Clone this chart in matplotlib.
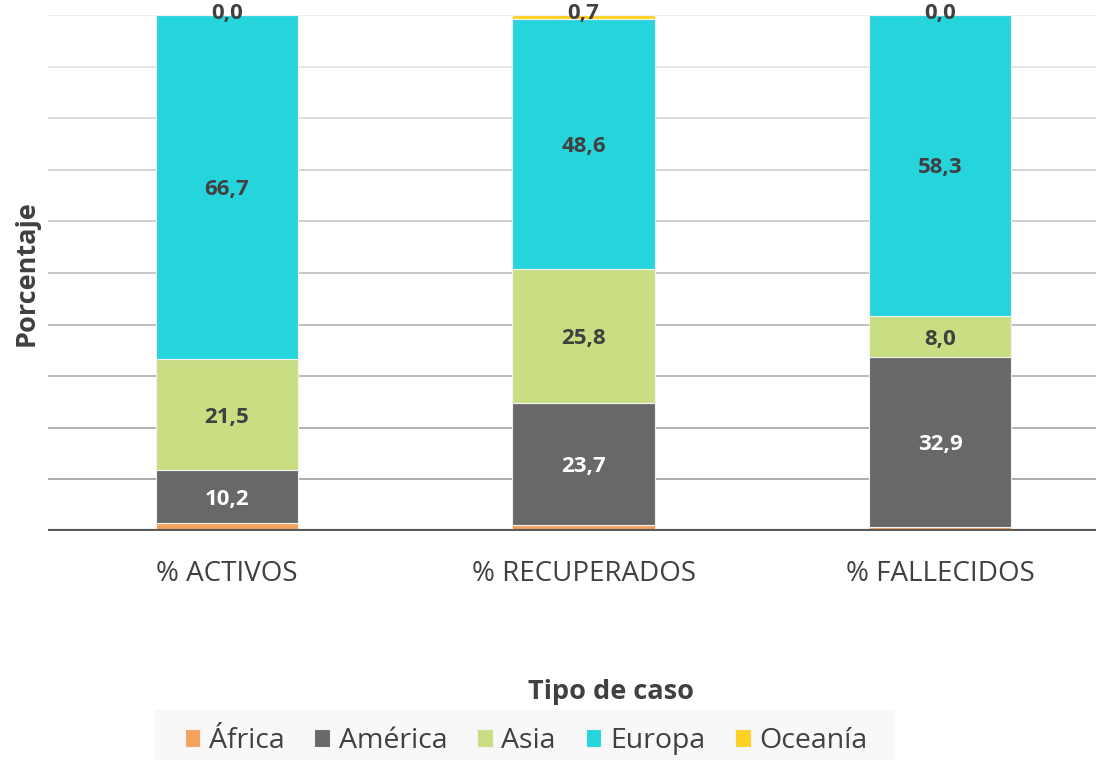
import numpy as np
import matplotlib.pyplot as plt
import pandas as pd
plt.rcParams['font.family'] = ['Open Sans', 'DejaVu Sans']
data = pd.DataFrame({
    'África':   [1.6, 1.2, 0.8],
    'América':  [10.2, 23.7, 32.9],
    'Asia':     [21.5, 25.8, 8.0],
    'Europa':   [66.7, 48.6, 58.3],
    'Oceanía':  [0.0, 0.7, 0.0],
}, index=['% ACTIVOS', '% RECUPERADOS', '% FALLECIDOS'])
colors = {'África': '#f4a15c', 'América': '#686868', 'Asia': '#c9dd82',
          'Europa': '#26d4dc', 'Oceanía': '#fdd225'}
x = np.arange(len(data))
fig = plt.figure(figsize=(10.96, 7.6), dpi=100)
ax = fig.add_axes([48 / 1096, 229 / 760, 1 - 48 / 1096, 516 / 760])
greys = ['#a6a6a6', '#acacac', '#b3b3b3', '#bababa', '#c2c2c2',
         '#cacaca', '#d2d2d2', '#dadada', '#e3e3e3', '#ebebeb']
for level, g in zip(range(10, 101, 10), greys):  # gridlines fade towards the top
    plt.axhline(level, color=g, lw=1.3, zorder=0)
bottom = np.zeros(len(data))
for region in data.columns:
    vals = data[region].values
    plt.bar(x, vals, width=0.4, bottom=bottom, color=colors[region],
            edgecolor='#f2f2f2', linewidth=0.8, label=region, zorder=2)
    for xi, v, b in zip(x, vals, bottom):
        if region == 'África':
            continue
        if region == 'Oceanía':
            y = b + v + 0.2
        else:
            y = b + v / 2 - 0.5
        tc = 'white' if region == 'América' else '#404040'
        plt.text(xi, y, f'{v:.1f}'.replace('.', ','), ha='center', va='center',
                 fontsize=16, fontweight='bold', color=tc, zorder=4, clip_on=False)
    bottom += vals
plt.axhline(0, color='#595959', lw=3, zorder=3)  # baseline
plt.xlim(-0.502, 2.437)
plt.ylim(0, 100)
plt.xticks(x, data.index, fontsize=20, color='#404040')
plt.yticks([])
plt.tick_params(axis='x', length=0, pad=21)
for s in ax.spines.values():
    s.set_visible(False)
plt.ylabel('Porcentaje', fontsize=19.5, fontweight='bold', color='#404040', labelpad=6)
fig.text(611 / 1096, 1 - 692 / 760, 'Tipo de caso', ha='center', va='center',
         fontsize=19.5, fontweight='bold', color='#404040')
fig.patches.append(plt.Rectangle((155 / 1096, 0), 738 / 1096, 50 / 760,
                                 transform=fig.transFigure, color='#f8f8f8', zorder=0))  # legend backdrop
leg = fig.legend(loc='center', bbox_to_anchor=(526 / 1096, 1 - 741 / 760), ncol=5,
                 frameon=False, fontsize=20.5, handlelength=0.55, handleheight=0.55,
                 handletextpad=0.3, columnspacing=1.05, borderpad=0.3)
for t in leg.get_texts():
    t.set_color('#404040')
plt.savefig('out.png', dpi=100)
